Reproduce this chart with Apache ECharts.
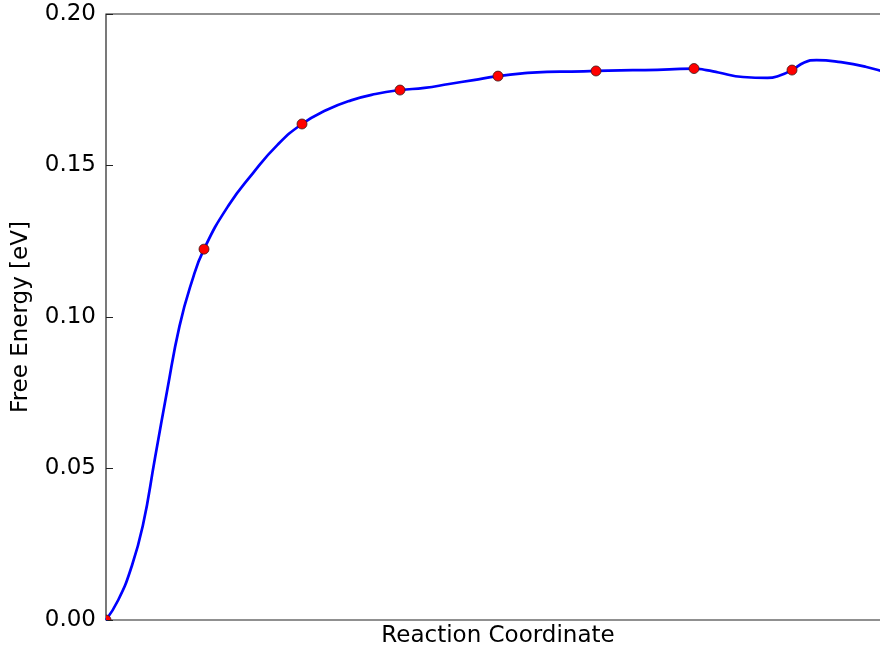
<!DOCTYPE html>
<html>
<head>
<meta charset="utf-8">
<script src="https://cdn.jsdelivr.net/npm/echarts@6/dist/echarts.min.js"></script>
<style>
  html, body { margin: 0; padding: 0; background: #fff; overflow: hidden; }
  #chart { width: 894px; height: 653px; }
</style>
</head>
<body>
<div id="chart"></div>
<script>
// Image positions along the path and their free energies (eV)
const imageX = [0, 1, 2, 3, 4, 5, 6, 7];
const imageEnergy = [0.0, 0.1224, 0.1637, 0.1749, 0.1795, 0.1812, 0.1820, 0.1815];

// Fitted energy profile sampled along the reaction coordinate
const curveX = [0, 0.125, 0.25, 0.375, 0.5, 0.625, 0.75, 0.875, 1.0,
  1.25, 1.5, 1.75, 2.0, 2.25, 2.5, 2.75, 3.0, 3.25, 3.5, 3.75, 4.0,
  4.25, 4.5, 4.75, 5.0, 5.25, 5.5, 5.75, 6.0, 6.125, 6.25, 6.5, 6.75, 6.875, 7.0,
  7.125, 7.25, 7.5, 7.75, 8.0];
const curveEnergy = [0, 0.0066, 0.0165, 0.0310, 0.0535, 0.0759, 0.0970, 0.1116, 0.1224,
  0.1368, 0.1475, 0.1568, 0.1637, 0.1683, 0.1715, 0.1736, 0.1749, 0.1756, 0.1769, 0.1782, 0.1795,
  0.1804, 0.1809, 0.1810, 0.1812, 0.1814, 0.1815, 0.1817, 0.1820, 0.1815, 0.1807, 0.1792, 0.1789, 0.1797, 0.1815,
  0.1840, 0.1848, 0.1841, 0.1826, 0.1803];

// Y-axis tick values
const yTicks = [0, 0.05, 0.10, 0.15, 0.20];

const FONT = 'DejaVu Sans';
const chart = echarts.init(document.getElementById('chart'), null, { renderer: 'canvas' });

// Image markers, clipped to the plotting area like the spline
function renderImage(params, api) {
  const p = api.coord([api.value(0), api.value(1)]);
  const cs = params.coordSys;
  return {
    type: 'circle',
    shape: { cx: p[0], cy: p[1], r: 5 },
    style: { fill: '#ff0000', stroke: '#3a1a1a', lineWidth: 0.8 },
    clipPath: { type: 'rect', shape: { x: cs.x, y: cs.y, width: cs.width, height: cs.height } }
  };
}

chart.setOption({
  animation: false,
  backgroundColor: '#ffffff',
  grid: {
    left: 106, top: 14, width: 784, height: 606,
    show: true, borderColor: '#222', borderWidth: 1.2, backgroundColor: 'transparent'
  },
  xAxis: {
    type: 'value', min: 0, max: 8,
    name: 'Reaction Coordinate', nameLocation: 'middle', nameGap: 5,
    nameTextStyle: { fontFamily: FONT, fontSize: 23, color: '#000', verticalAlign: 'top' },
    axisLine: { show: false }, axisTick: { show: false },
    axisLabel: { show: false }, splitLine: { show: false }
  },
  yAxis: {
    type: 'value', min: yTicks[0], max: yTicks[yTicks.length - 1], interval: 0.05,
    name: 'Free Energy [eV]', nameLocation: 'middle', nameGap: 73, nameRotate: 90,
    nameTextStyle: { fontFamily: FONT, fontSize: 23, color: '#000' },
    axisLine: { show: false },
    axisTick: { show: true, inside: true, length: 7, lineStyle: { color: '#222', width: 1 } },
    axisLabel: {
      fontFamily: FONT, fontSize: 23, color: '#000', margin: 10,
      formatter: v => v.toFixed(2)
    },
    splitLine: { show: false }
  },
  series: [
    {
      type: 'line',
      data: curveX.map((x, i) => [x, curveEnergy[i]]),
      smooth: 0.5,
      showSymbol: false,
      clip: true,
      lineStyle: { color: '#0000ff', width: 2.7 },
      z: 2
    },
    {
      type: 'custom',
      data: imageX.map((x, i) => [x, imageEnergy[i]]),
      renderItem: renderImage,
      encode: { x: 0, y: 1 },
      clip: true,
      z: 3
    }
  ]
});
</script>
</body>
</html>
